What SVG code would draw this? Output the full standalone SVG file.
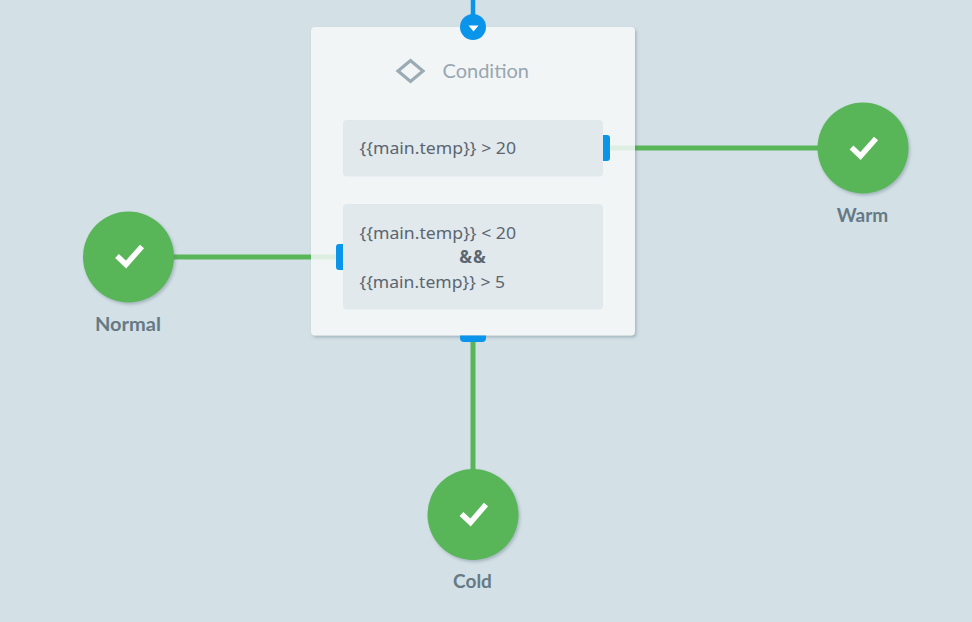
<svg xmlns="http://www.w3.org/2000/svg" width="972" height="622" viewBox="0 0 972 622">
<style>
text{font-family:"Lato","Noto Sans","Liberation Sans",sans-serif}
.lbl{font-size:19px;font-weight:700;fill:#667a85;text-anchor:middle}
.expr{font-family:"Noto Sans","Liberation Sans",sans-serif;font-size:17px;fill:#5b6670}
.check{fill:none;stroke:#fff;stroke-width:5.500}
.green{stroke:#58b558;stroke-width:5;fill:none}
.pale{stroke:#dcefe0;stroke-width:5;fill:none}
.port{fill:#0a94ea}
.row{fill:#e2e9ed}
</style>
<defs>
<filter id="s" x="-10%" y="-10%" width="120%" height="120%"><feDropShadow dx="1.500" dy="2" stdDeviation="1.500" flood-color="#5c6f7a" flood-opacity=".38"/></filter>
</defs>
<rect width="972" height="622" fill="#d3e0e6"/>
<g id="connectors">
<path d="M473 0V20" stroke="#0a94ea" stroke-width="4.500" fill="none"/>
<path class="green" d="M635 148H820"/>
<path class="green" d="M172 257H311"/>
<path class="green" d="M473 340V472"/>
</g>
<g id="condition">
<rect x="311" y="27" width="324" height="308.500" rx="4" fill="#f1f5f6" filter="url(#s)"/>
<path class="pale" d="M609 148H635"/>
<path class="pale" d="M311 257H337"/>
<path d="M398 71L410.500 60.500L423 71L410.500 81.500Z" fill="none" stroke="#9babb4" stroke-width="3.200"/>
<text x="442.500" y="77.500" font-size="20" fill="#98a6af">Condition</text>
<circle cx="473" cy="27" r="13" class="port"/>
<path d="M468.500 25.500H478.500L473.500 31.500Z" fill="#fff"/>
<rect class="row" x="343" y="120" width="260" height="56.500" rx="4"/>
<text class="expr" x="359.500" y="154" textLength="156.500" lengthAdjust="spacingAndGlyphs">{{main.temp}} &gt; 20</text>
<path class="port" d="M603 135H607A3 3 0 0 1 610 138V158A3 3 0 0 1 607 161H603Z"/>
<rect class="row" x="343" y="204" width="260" height="105.500" rx="4"/>
<text class="expr" x="359.500" y="239" textLength="156.500" lengthAdjust="spacingAndGlyphs">{{main.temp}} &lt; 20</text>
<text class="expr" x="473" y="263" text-anchor="middle" font-weight="700" letter-spacing="1">&amp;&amp;</text>
<text class="expr" x="359.500" y="288" textLength="145.500" lengthAdjust="spacingAndGlyphs">{{main.temp}} &gt; 5</text>
<path class="port" d="M343 244H339A3 3 0 0 0 336 247V267A3 3 0 0 0 339 270H343Z"/>
<path class="port" d="M460 335.500H486V338A4 4 0 0 1 482 342H464A4 4 0 0 1 460 338Z"/>
</g>
<g id="warm">
<circle cx="863" cy="148" r="45.500" fill="#58b558" filter="url(#s)"/>
<path class="check" d="M851.500 147.500L860.500 156L876 138.500"/>
<text class="lbl" x="862.500" y="222">Warm</text>
</g>
<g id="normal">
<circle cx="128.500" cy="257" r="45.500" fill="#58b558" filter="url(#s)"/>
<path class="check" d="M117 256L126 264.500L142 246.500"/>
<text class="lbl" x="128" y="331" textLength="66" lengthAdjust="spacingAndGlyphs">Normal</text>
</g>
<g id="cold">
<circle cx="473" cy="514.500" r="45.500" fill="#58b558" filter="url(#s)"/>
<path class="check" d="M461.500 514L470.500 522.500L486 504.500"/>
<text class="lbl" x="472.500" y="588">Cold</text>
</g>
</svg>
